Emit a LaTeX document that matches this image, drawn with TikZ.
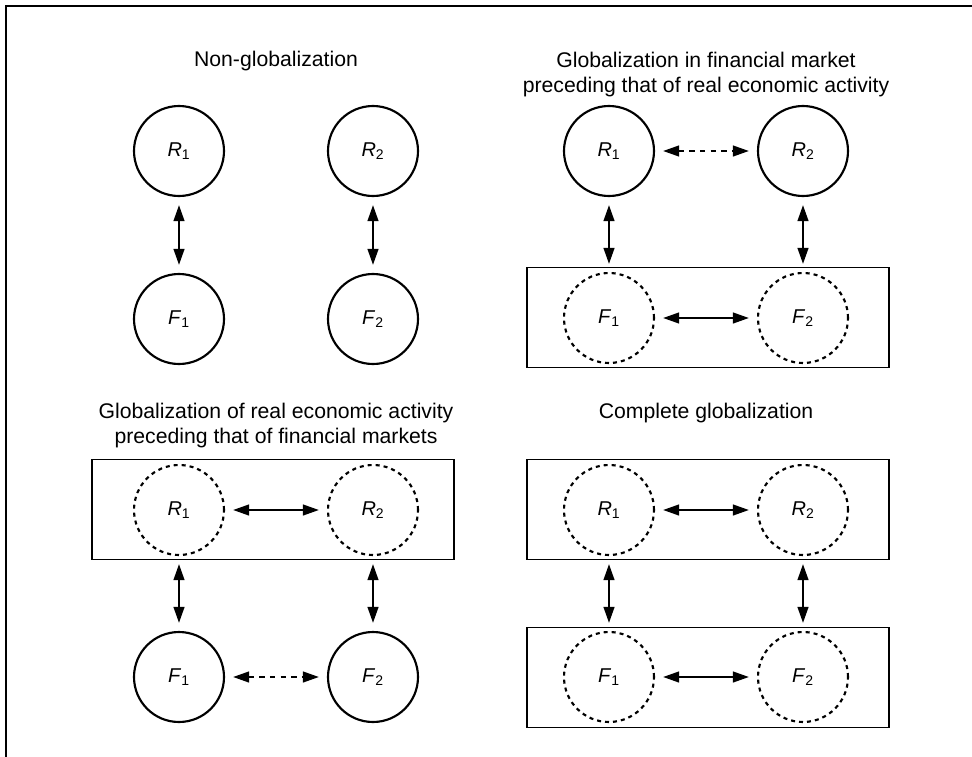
\documentclass[tikz,border=0pt]{standalone}
\usepackage{fontspec}
\setmainfont{Liberation Sans}
\usetikzlibrary{arrows.meta}

\begin{document}
\begin{tikzpicture}[x=0.75pt,y=-0.75pt,
  every node/.style={font=\fontsize{15}{17}\selectfont},
  sector/.style={circle,draw,line width=1.6pt,minimum size=67.5pt,inner sep=0pt},
  open sector/.style={sector,dash pattern=on 3pt off 3pt},
  market/.style={draw,line width=0.9pt,minimum width=271.5pt,minimum height=75pt,inner sep=0pt},
  caption/.style={font=\fontsize{15.9}{18.75}\selectfont,align=center,anchor=base},
  link/.style={line width=1.6pt,{Triangle[length=12pt,width=8pt]}-{Triangle[length=12pt,width=8pt]},
    shorten <=6pt,shorten >=6pt},
  weak link/.style={link,dash pattern=on 4pt off 4pt}]
  \useasboundingbox (0,0) rectangle (972,757);
  \draw[line width=0.8pt] (972,6) -- (6,6) -- (6,757);

  % non-globalization
  \node[caption] (cap a) at (276,66) {Non-globalization};
  \node[sector] (r1a) at (179,151) {\textit{R}\textsubscript{1}};
  \node[sector] (r2a) at (373,151) {\textit{R}\textsubscript{2}};
  \node[sector] (f1a) at (179,319) {\textit{F}\textsubscript{1}};
  \node[sector] (f2a) at (373,319) {\textit{F}\textsubscript{2}};
  \draw[link] (r1a) -- (f1a);
  \draw[link] (r2a) -- (f2a);

  % financial markets first
  \node[caption] (cap b) at (706,92) {Globalization in financial market\\preceding that of real economic activity};
  \node[market] (fin b) at (708,317.5) {};
  \node[sector] (r1b) at (609,151) {\textit{R}\textsubscript{1}};
  \node[sector] (r2b) at (803,151) {\textit{R}\textsubscript{2}};
  \node[open sector] (f1b) at (609,318) {\textit{F}\textsubscript{1}};
  \node[open sector] (f2b) at (803,318) {\textit{F}\textsubscript{2}};
  \draw[weak link] (r1b) -- (r2b);
  \draw[link] (f1b) -- (f2b);
  \draw[link] (r1b) -- (f1b);
  \draw[link] (r2b) -- (f2b);

  % real activity first
  \node[caption] (cap c) at (276,443) {Globalization of real economic activity\\preceding that of financial markets};
  \node[market] (real c) at (273,509.5) {};
  \node[open sector] (r1c) at (179,510) {\textit{R}\textsubscript{1}};
  \node[open sector] (r2c) at (373,510) {\textit{R}\textsubscript{2}};
  \node[sector] (f1c) at (179,677) {\textit{F}\textsubscript{1}};
  \node[sector] (f2c) at (373,677) {\textit{F}\textsubscript{2}};
  \draw[link] (r1c) -- (r2c);
  \draw[weak link] (f1c) -- (f2c);
  \draw[link] (r1c) -- (f1c);
  \draw[link] (r2c) -- (f2c);

  % complete
  \node[caption] (cap d) at (706,418) {Complete globalization};
  \node[market] (real d) at (708,509.5) {};
  \node[market] (fin d) at (708,677.5) {};
  \node[open sector] (r1d) at (609,510) {\textit{R}\textsubscript{1}};
  \node[open sector] (r2d) at (803,510) {\textit{R}\textsubscript{2}};
  \node[open sector] (f1d) at (609,677) {\textit{F}\textsubscript{1}};
  \node[open sector] (f2d) at (803,677) {\textit{F}\textsubscript{2}};
  \draw[link] (r1d) -- (r2d);
  \draw[link] (f1d) -- (f2d);
  \draw[link] (r1d) -- (f1d);
  \draw[link] (r2d) -- (f2d);
\end{tikzpicture}
\end{document}
